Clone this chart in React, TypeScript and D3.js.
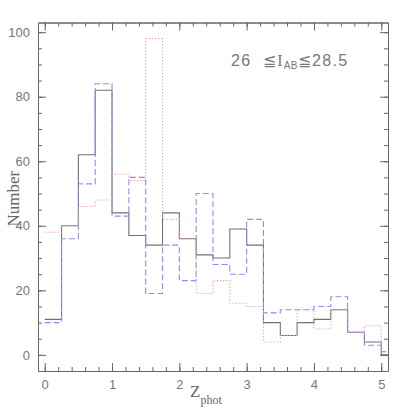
import React, { useEffect, useRef } from 'react';
import * as d3 from 'd3';

// bin left edges (width 0.25)
const binEdges = [0, 0.25, 0.5, 0.75, 1, 1.25, 1.5, 1.75, 2, 2.25, 2.5, 2.75, 3, 3.25, 3.5, 3.75, 4, 4.25, 4.5, 4.75, 5];
const solidCounts = [11, 40, 62, 82, 44, 37, 34, 44, 36, 31, 30, 39, 34, 10, 6, 10, 11, 14, 7, 4, 0];
const dashedCounts = [10, 36, 53, 84, 43, 55, 19, 34, 23, 50, 28, 25, 42, 13, 14, 14, 15, 18, 7, 3, 1];
const dottedCounts = [38, 40, 46, 48, 56, 54, 98, 42, 36, 19, 23, 16, 15, 4, 6, 14, 8, 14, 7, 9, 1];
const xMajorTicks = [0, 1, 2, 3, 4, 5];
const yMajorTicks = [0, 20, 40, 60, 80, 100];

const W = 409, H = 409;
const margin = { top: 22.5, right: 21, bottom: 38, left: 38 };
const binWidth = 0.25;

export default function App() {
  const ref = useRef<SVGSVGElement>(null);

  useEffect(() => {
    const svg = d3.select(ref.current);
    svg.selectAll('*').remove();

    const x = d3.scaleLinear().domain([-0.1, 5.1]).range([margin.left, W - margin.right]);
    const y = d3.scaleLinear().domain([-5, 103]).range([H - margin.bottom, margin.top]);
    const axisColor = '#666';
    const serif = '"Liberation Serif", "DejaVu Serif", serif';
    const sans = '"Liberation Sans", Arial, sans-serif';

    svg.append('clipPath').attr('id', 'plot-clip')
      .append('rect')
      .attr('x', x(-0.1)).attr('y', y(103))
      .attr('width', x(5.1) - x(-0.1)).attr('height', y(-5) - y(103));

    const xMinor = d3.range(0, 5.01, 0.2).map(d => +d.toFixed(1));
    const yMinor = d3.range(-5, 101, 5);

    // bottom axis
    const bottom = svg.append('g').attr('transform', `translate(0,${y(-5)})`)
      .call(d3.axisBottom(x).tickValues(xMajorTicks).tickSizeInner(-8).tickSizeOuter(0).tickPadding(9).tickFormat(d3.format('d')));
    svg.append('g').attr('transform', `translate(0,${y(-5)})`)
      .call(d3.axisBottom(x).tickValues(xMinor).tickSizeInner(-4).tickSizeOuter(0).tickFormat(() => ''));
    // top axis
    svg.append('g').attr('transform', `translate(0,${y(103)})`)
      .call(d3.axisTop(x).tickValues(xMajorTicks).tickSizeInner(-8).tickSizeOuter(0).tickFormat(() => ''));
    svg.append('g').attr('transform', `translate(0,${y(103)})`)
      .call(d3.axisTop(x).tickValues(xMinor).tickSizeInner(-4).tickSizeOuter(0).tickFormat(() => ''));
    // left axis
    svg.append('g').attr('transform', `translate(${x(-0.1)},0)`)
      .call(d3.axisLeft(y).tickValues(yMajorTicks).tickSizeInner(-8).tickSizeOuter(0).tickPadding(8).tickFormat(d3.format('d')));
    svg.append('g').attr('transform', `translate(${x(-0.1)},0)`)
      .call(d3.axisLeft(y).tickValues(yMinor).tickSizeInner(-4).tickSizeOuter(0).tickFormat(() => ''));
    // right axis
    svg.append('g').attr('transform', `translate(${x(5.1)},0)`)
      .call(d3.axisRight(y).tickValues(yMajorTicks).tickSizeInner(-8).tickSizeOuter(0).tickFormat(() => ''));
    svg.append('g').attr('transform', `translate(${x(5.1)},0)`)
      .call(d3.axisRight(y).tickValues(yMinor).tickSizeInner(-4).tickSizeOuter(0).tickFormat(() => ''));

    svg.selectAll('.domain, .tick line').attr('stroke', axisColor).attr('stroke-width', 1);
    svg.selectAll('.tick text').attr('fill', '#777').attr('font-family', sans).attr('font-size', 13);
    bottom.selectAll('.tick text').attr('dy', '0.71em');

    // histograms
    const line = d3.line<[number, number]>()
      .x(d => x(d[0])).y(d => y(d[1]))
      .curve(d3.curveStepAfter);
    const series = [
      { values: solidCounts, color: '#707070', dash: null },
      { values: dashedCounts, color: '#8c8cff', dash: '6,3' },
      { values: dottedCounts, color: '#ff9a9a', dash: '1.2,2' },
    ];
    const g = svg.append('g').attr('clip-path', 'url(#plot-clip)');
    series.forEach(s => {
      const pts: [number, number][] = binEdges.map((e, i) => [e, s.values[i]]);
      pts.push([binEdges[binEdges.length - 1] + binWidth, s.values[s.values.length - 1]]);
      g.append('path')
        .attr('d', line(pts))
        .attr('fill', 'none')
        .attr('stroke', s.color)
        .attr('stroke-width', 1.1)
        .attr('stroke-dasharray', s.dash);
    });

    // axis titles
    svg.append('text')
      .attr('transform', `translate(19,${(y(-5) + y(103)) / 2 + 2}) rotate(-90)`)
      .attr('text-anchor', 'middle')
      .attr('font-family', serif).attr('font-size', 17).attr('fill', '#666')
      .text('Number');

    const zt = svg.append('text')
      .attr('x', 190).attr('y', 397)
      .attr('font-family', serif).attr('font-size', 17).attr('fill', '#666');
    zt.append('tspan').text('Z');
    zt.append('tspan').attr('font-size', 12).attr('dy', 7).text('phot');

    const ann = svg.append('text')
      .attr('x', 231).attr('y', 65.5)
      .attr('font-family', sans).attr('font-size', 16).attr('fill', '#777')
      .attr('letter-spacing', 1.3);
    ann.append('tspan').text('26\u00a0\u00a0\u2266');
    ann.append('tspan').attr('font-family', serif).text('I');
    ann.append('tspan').attr('font-size', 10).attr('dy', 3).attr('letter-spacing', 0.3).text('AB');
    ann.append('tspan').attr('dy', -3).text('\u226628.5');
  }, []);

  return (
    <svg ref={ref} width={W} height={H} style={{ position: 'absolute', left: 0, top: 0 }} />
  );
}
